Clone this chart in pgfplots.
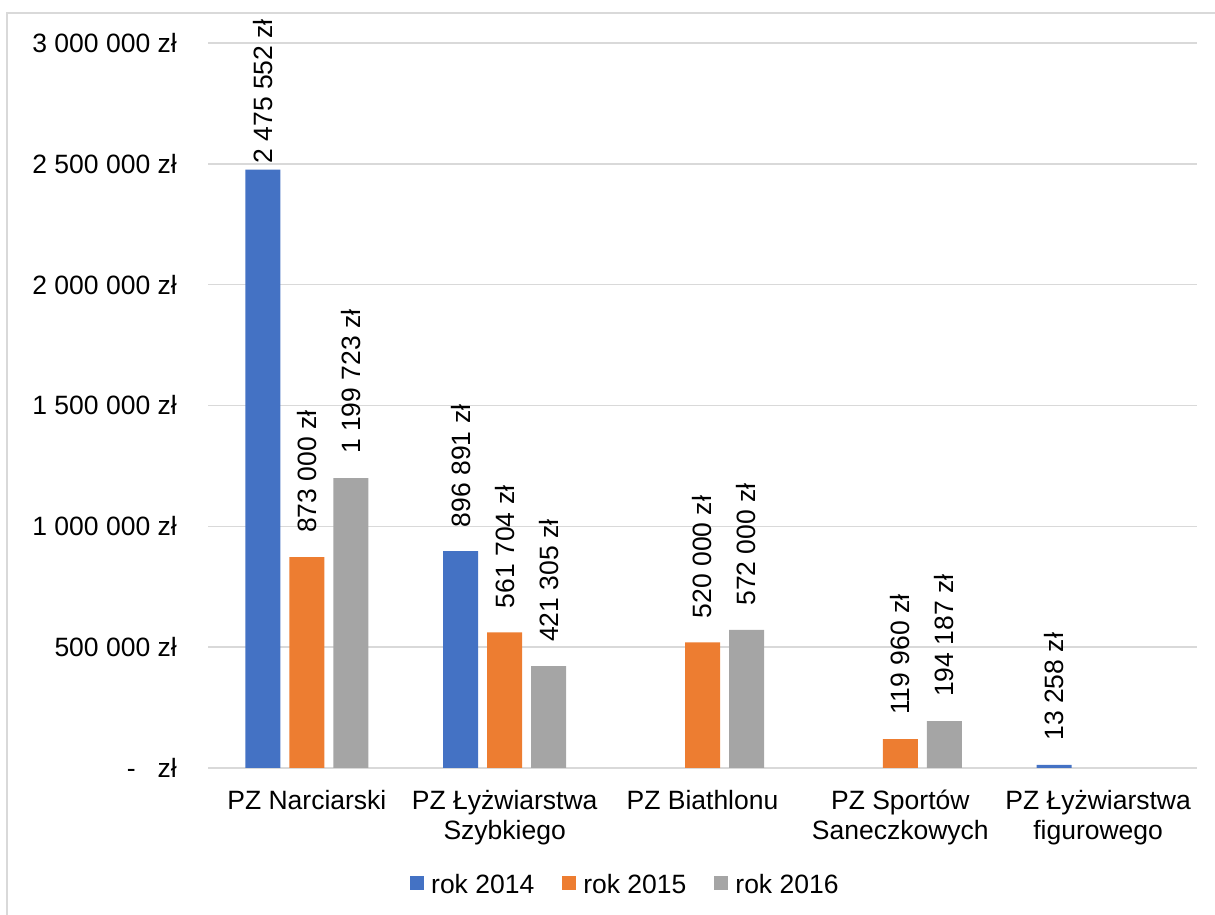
\documentclass[border=0pt]{standalone}
\usepackage{pgfplots}
\pgfplotsset{compat=1.18}
\usepackage{fontspec}
\setmainfont{Liberation Sans}

\definecolor{c14}{HTML}{4472C4}
\definecolor{c15}{HTML}{ED7D31}
\definecolor{c16}{HTML}{A5A5A5}
\definecolor{gridc}{HTML}{D9D9D9}

\newcommand{\lbl}{\fontsize{26.5}{30}\selectfont}

\begin{document}
\begin{tikzpicture}
\path[use as bounding box] (0pt,0pt) rectangle (1215pt,915pt);
% chart frame (only top and left edges are visible)
\draw[gridc, line width=1.5pt] (7pt,0pt) -- (7pt,902pt) -- (1215pt,902pt);
\begin{axis}[
  at={(208pt,147pt)}, anchor=south west,
  scale only axis, width=989pt, height=725pt,
  xmin=-0.5, xmax=4.5, ymin=0, ymax=3000000,
  ybar, bar width=35pt,
  axis line style={draw=none},
  major tick length=0pt,
  scaled y ticks=false,
  xtick={0,1,2,3,4},
  xticklabels={PZ Narciarski, {PZ Łyżwiarstwa\\Szybkiego}, PZ Biathlonu,
    {PZ Sportów\\Saneczkowych}, {PZ Łyżwiarstwa\\figurowego}},
  xticklabel style={font=\lbl, align=center, anchor=north, inner sep=0pt, yshift=-22pt},
  ytick={0,500000,1000000,1500000,2000000,2500000,3000000},
  yticklabels={{-\hspace{22pt}zł}, 500 000 zł, 1 000 000 zł, 1 500 000 zł,
    2 000 000 zł, 2 500 000 zł, 3 000 000 zł},
  yticklabel style={font=\lbl, anchor=east, inner sep=0pt, xshift=-31pt},
  ymajorgrids, grid style={gridc, line width=1.5pt},
  nodes near coords, point meta=explicit symbolic,
  every node near coord/.append style={font=\lbl, rotate=90, anchor=west,
    inner xsep=24pt, inner ysep=0pt, black},
  legend columns=3,
  legend image code/.code={\fill[#1] (0pt,-5pt) rectangle (14pt,9pt);},
  legend style={draw=none, fill=none, font=\lbl,
    at={(axis description cs:0.421,-0.1614)}, anchor=center,
    nodes={inner sep=0pt},
    /tikz/every odd column/.append style={column sep=7pt},
    /tikz/every even column/.append style={column sep=28pt}},
]
\addplot[fill=c14, draw=none, bar shift=-44pt] coordinates {
  (0,2475552) [\hspace{-18pt}2 475 552 zł]
  (1,896891)  [896 891 zł]
  (4,13258)   [13 258 zł]
};
\addplot[fill=c15, draw=none, bar shift=0pt] coordinates {
  (0,873000) [873 000 zł]
  (1,561704) [561 704 zł]
  (2,520000) [520 000 zł]
  (3,119960) [119 960 zł]
};
\addplot[fill=c16, draw=none, bar shift=44pt] coordinates {
  (0,1199723) [1 199 723 zł]
  (1,421305)  [421 305 zł]
  (2,572000)  [572 000 zł]
  (3,194187)  [194 187 zł]
};
\legend{rok 2014, rok 2015, rok 2016}
\end{axis}
\end{tikzpicture}
\end{document}
